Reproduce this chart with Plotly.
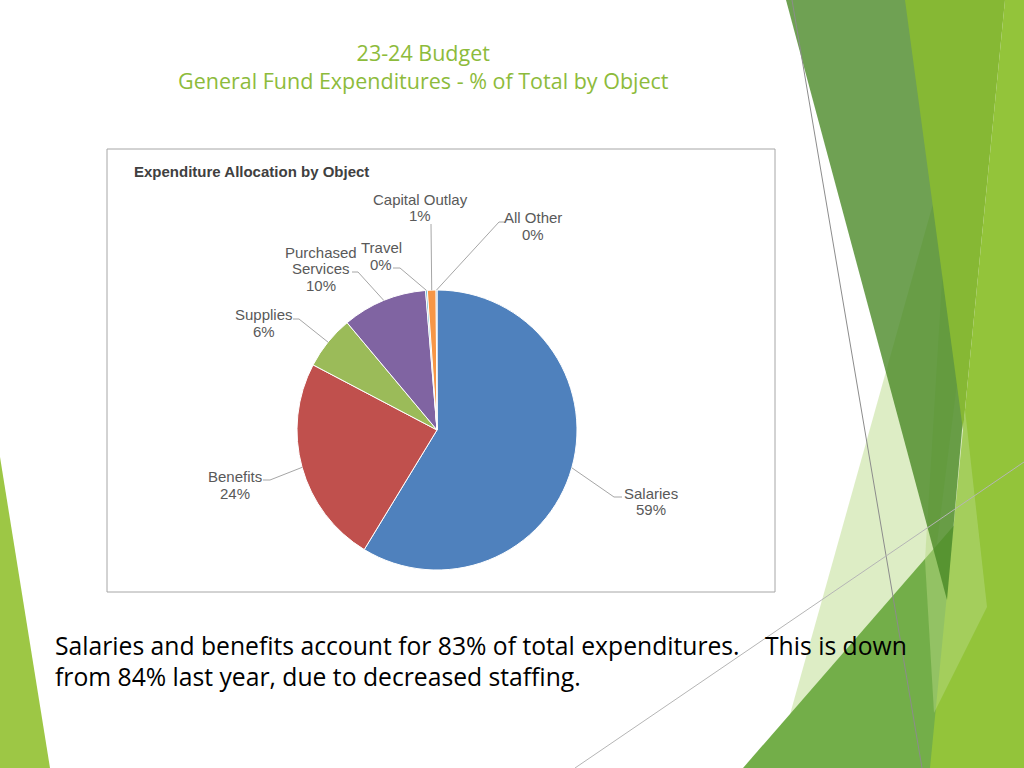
import math
import plotly.graph_objects as go

W, H = 1024, 768

# pie data (share of general fund expenditures, %)
categories = ["Salaries", "Benefits", "Supplies", "Purchased Services",
              "Travel", "Capital Outlay", "All Other"]
shares = [58.7, 24.0, 6.2, 9.8, 0.2, 1.0, 0.1]
slice_colors = ["#4F81BD", "#C0504D", "#9BBB59", "#8064A2",
                "#4BACC6", "#F79646", "#2C4D75"]

title_lines = ["23-24 Budget", "General Fund Expenditures - % of Total by Object"]
chart_title = "Expenditure Allocation by Object"
body_line1 = "Salaries and benefits account for 83% of total expenditures."
body_line1b = "This is down"
body_line2 = "from 84% last year, due to decreased staffing."


def px(x):
    return x / W


def py(y):
    return 1 - y / H


# pie geometry in screen pixels
cx, cy, r = 437, 430, 140

# label block centre, line start, elbow (screen pixels)
label_pos = {
    "Salaries": ((651, 501.5), (622, 497), (614, 497)),
    "Benefits": ((235, 485), (263, 480), (270, 480)),
    "Supplies": ((264, 323), (293, 319), (299, 319)),
    "Purchased Services": ((321, 268.5), (352, 272), (358, 272)),
    "Travel": ((381, 256), (393, 268), (400, 268)),
    "Capital Outlay": ((420, 207.5), (431, 224), (431, 224)),
    "All Other": ((533, 226), (505, 222), (499, 222)),
}
LINE_GAP = 16.5

fig = go.Figure()
fig.add_trace(go.Pie(
    labels=categories, values=shares, sort=False, direction="clockwise",
    rotation=0, textinfo="none", hoverinfo="label+percent",
    marker=dict(colors=slice_colors, line=dict(color="white", width=1)),
    domain=dict(x=[px(cx - r), px(cx + r)], y=[py(cy + r), py(cy - r)]),
    showlegend=False,
))

shapes = []
annotations = []


# decorative slide shapes
def poly(pts, fill):
    path = "M " + " L ".join(f"{px(x)},{py(y)}" for x, y in pts) + " Z"
    shapes.append(dict(type="path", xref="paper", yref="paper", path=path,
                       fillcolor=fill, line=dict(width=0), layer="below"))


pale = "rgba(182,216,131,0.47)"
poly([(0, 457), (50, 768), (0, 768)], "#9DC745")
poly([(990, 0), (1005, 0), (935, 560), (860, 768), (775, 768)], pale)
poly([(743, 768), (1024, 445), (1024, 768)], "#73AE49")
poly([(1005, 0), (1024, 0), (1024, 768), (930, 768)], "#93C43A")
poly([(945, 230), (987, 607), (934, 713), (925, 560)], pale)
poly([(786, 0), (1000, 0), (947, 600)], "rgba(70,135,35,0.78)")
poly([(905, 0), (1005, 0), (963, 430)], "#86B834")

for (x0, y0, x1, y1, col) in [(792, 0, 922, 768, "#8C8C8C"),
                              (575, 768, 1024, 462, "#B5B5B5")]:
    shapes.append(dict(type="line", xref="paper", yref="paper",
                       x0=px(x0), y0=py(y0), x1=px(x1), y1=py(y1),
                       line=dict(color=col, width=1), layer="below"))

# chart frame
shapes.append(dict(type="rect", xref="paper", yref="paper",
                   x0=px(107), y0=py(592), x1=px(775), y1=py(149),
                   line=dict(color="#A6A6A6", width=1), fillcolor="rgba(0,0,0,0)"))

# data labels with leader lines pointing to slice middles
total = sum(shares)
cum = 0
for name, v in zip(categories, shares):
    mid = (cum + v / 2) / total * 2 * math.pi
    cum += v
    tx, ty = cx + r * math.sin(mid), cy - r * math.cos(mid)
    (lx, ly), (sx, sy), (ex, ey) = label_pos[name]
    shapes.append(dict(type="path", xref="paper", yref="paper",
                       path=f"M {px(sx)},{py(sy)} L {px(ex)},{py(ey)} L {px(tx)},{py(ty)}",
                       line=dict(color="#A6A6A6", width=1)))
    pct = round(v / total * 100)
    lines = (name.split(" ") if name == "Purchased Services" else [name]) + [f"{pct}%"]
    y0 = ly - LINE_GAP * (len(lines) - 1) / 2
    for i, t in enumerate(lines):
        annotations.append(dict(x=px(lx), y=py(y0 + i * LINE_GAP), xref="paper", yref="paper",
                                text=t, showarrow=False, xanchor="center", yanchor="middle",
                                font=dict(family="Liberation Sans, Arial", size=15, color="#595959")))

annotations.append(dict(x=px(132), y=py(171), xref="paper", yref="paper",
                        text=f"<b>{chart_title}</b>", showarrow=False,
                        xanchor="left", yanchor="middle",
                        font=dict(family="Liberation Sans, Arial", size=15, color="#404040")))

annotations.append(dict(x=px(423), y=py(66), xref="paper", yref="paper",
                        text="<br>".join(title_lines), showarrow=False,
                        xanchor="center", yanchor="middle",
                        font=dict(family="Open Sans", size=21.5, color="#8DBB3B")))

for txt, xx, yy in [(body_line1, 53, 645), (body_line1b, 763, 645), (body_line2, 53, 676)]:
    annotations.append(dict(x=px(xx), y=py(yy), xref="paper", yref="paper",
                            text=txt, showarrow=False, xanchor="left", yanchor="middle",
                            font=dict(family="Open Sans", size=24.7, color="#000000")))

fig.update_layout(
    width=W, height=H, margin=dict(l=0, r=0, t=0, b=0),
    paper_bgcolor="white", plot_bgcolor="white",
    shapes=shapes, annotations=annotations,
)

fig.write_html("out.html", config={"displayModeBar": False},
               post_script="document.body.style.margin='0';")
